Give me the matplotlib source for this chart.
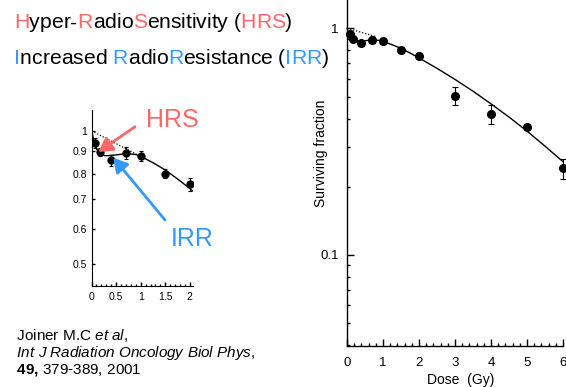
import matplotlib
matplotlib.use("Agg")
import matplotlib.pyplot as plt
from matplotlib.ticker import FixedLocator, MultipleLocator, LogLocator, NullFormatter, FixedFormatter
from matplotlib.patches import FancyArrowPatch
from matplotlib.font_manager import FontProperties, findfont
from matplotlib.ft2font import FT2Font
try:
    from matplotlib.ft2font import LoadFlags
    NO_HINT = LoadFlags.NO_HINTING
except ImportError:
    from matplotlib.ft2font import LOAD_NO_HINTING as NO_HINT
try:
    from matplotlib.ft2font import Kerning
    KERN_MODE = Kerning.UNFITTED
except ImportError:
    from matplotlib.ft2font import KERNING_UNFITTED as KERN_MODE

plt.rcParams['font.family'] = 'Liberation Sans'

# ---------------- data ----------------
dose = [0.08, 0.18, 0.39, 0.70, 1.0, 1.5, 2.0, 3.0, 4.0, 5.0, 6.0]
sf = [0.94, 0.895, 0.858, 0.89, 0.878, 0.80, 0.757, 0.504, 0.417, 0.368, 0.241]
sf_err = [0.025, 0.02, 0.024, 0.028, 0.022, 0.02, 0.025, 0.047, 0.04, 0.01, 0.024]

curve_dose = [0, 0.05, 0.1, 0.15, 0.2, 0.3, 0.5, 0.7, 0.9, 1.0, 1.25, 1.5, 1.75,
              2.0, 2.5, 3.0, 3.5, 4.0, 4.5, 5.0, 5.5, 6.0]
curve_sf = [1.0, 0.95, 0.912, 0.892, 0.882, 0.878, 0.882, 0.888, 0.884, 0.875, 0.847,
            0.815, 0.778, 0.74, 0.666, 0.595, 0.528, 0.464, 0.406, 0.352, 0.302, 0.258]

lq_dose_inset = [0, 1.0]
lq_sf_inset = [1.0, 0.875]
lq_dose_main = [0, 0.8]
lq_sf_main = [1.0, 0.92]

main_xticks = [0, 1, 2, 3, 4, 5, 6]
main_yticks = [0.1, 1]
main_yticklabels = ["0.1", "1"]
inset_xticks = [0, 0.5, 1, 1.5, 2]
inset_xticklabels = ["0", "0.5", "1", "1.5", "2"]
inset_yticks = [0.5, 0.6, 0.7, 0.8, 0.9, 1.0]
inset_yticklabels = ["0.5", "0.6", "0.7", "0.8", "0.9", "1"]

RED = "#FF6666"
BLUE = "#3399FF"

W, H = 566, 387
DPI = 100
fig = plt.figure(figsize=(W / DPI, H / DPI), dpi=DPI)


def fx(px):
    return px / W


def fy(py):
    return 1 - py / H


def frame(left, top, right, bottom):
    return [fx(left), fy(bottom), fx(right) - fx(left), fy(top) - fy(bottom)]


# ---------------- main axes ----------------
ax = fig.add_axes(frame(347, 0, 563, 345.7))
ax.set_yscale('log')
ax.set_xlim(0, 6)
ax.set_ylim(0.0398, 1.333)
for s in ('top', 'right'):
    ax.spines[s].set_visible(False)
for s in ('left', 'bottom'):
    ax.spines[s].set_linewidth(1.0)

ax.plot(curve_dose, curve_sf, color='black', lw=1.0, clip_on=False, zorder=2)
ax.plot(lq_dose_main, lq_sf_main, color='black', lw=0.9, ls=(0, (1, 1.5)), zorder=2)
ax.errorbar(dose, sf, yerr=sf_err, fmt='o', color='black', ms=5.5, capsize=2,
            elinewidth=0.8, capthick=0.8, clip_on=False, zorder=3)

ax.xaxis.set_major_locator(FixedLocator(main_xticks))
ax.xaxis.set_minor_locator(MultipleLocator(0.2))
ax.yaxis.set_major_locator(FixedLocator(main_yticks))
ax.yaxis.set_major_formatter(FixedFormatter(main_yticklabels))
ax.yaxis.set_minor_locator(LogLocator(base=10, subs=[2, 3, 4, 5, 6, 7, 8, 9]))
ax.yaxis.set_minor_formatter(NullFormatter())
ax.tick_params(which='major', direction='in', length=5, width=1, labelsize=9.5)
ax.tick_params(which='minor', direction='in', length=2.5, width=1)
ax.tick_params(axis='x', which='major', pad=8)
ax.tick_params(axis='y', which='major', pad=6)

fig.text(fx(461), fy(384), "Dose  (Gy)", ha='center', va='baseline', fontsize=10)
fig.text(fx(321), fy(153), "Surviving fraction", ha='center', va='center',
         rotation=90, fontsize=10)

# ---------------- inset axes ----------------
axi = fig.add_axes(frame(91.5, 110, 193.3, 286))
axi.set_yscale('log')
axi.set_xlim(0, 2.07)
axi.set_ylim(0.445, 1.115)
for s in ('top', 'right'):
    axi.spines[s].set_visible(False)
axi.plot(curve_dose, curve_sf, color='black', lw=1.0, zorder=2)
axi.plot(lq_dose_inset, lq_sf_inset, color='black', lw=0.9, ls=(0, (1, 1.5)), zorder=2)
axi.errorbar(dose, sf, yerr=sf_err, fmt='o', color='black', ms=5, capsize=1.5,
             elinewidth=0.8, capthick=0.8, zorder=3)
axi.xaxis.set_major_locator(FixedLocator(inset_xticks))
axi.xaxis.set_major_formatter(FixedFormatter(inset_xticklabels))
axi.xaxis.set_minor_locator(MultipleLocator(0.1))
axi.yaxis.set_major_locator(FixedLocator(inset_yticks))
axi.yaxis.set_major_formatter(FixedFormatter(inset_yticklabels))
axi.yaxis.set_minor_locator(FixedLocator([]))
axi.yaxis.set_minor_formatter(NullFormatter())
axi.tick_params(axis='x', which='major', direction='in', length=3, width=1, labelsize=7.5, pad=4)
axi.tick_params(axis='x', which='minor', direction='in', length=1.8, width=1)
axi.tick_params(axis='y', which='major', direction='in', length=1.8, width=1,
                labelsize=7.5, pad=3.5)


# ---------------- rich text helper (per-character placement) ----------------
_fonts = {}


def get_font(size, style, weight):
    key = (size, style, weight)
    if key not in _fonts:
        prop = FontProperties(family='Liberation Sans', style=style, weight=weight)
        f = FT2Font(findfont(prop))
        f.set_size(size, DPI)
        _fonts[key] = f
    return _fonts[key]


def rich(x, y, parts, size, color='black'):
    cur = x
    for s, props in parts:
        p = {'color': color, 'style': 'normal', 'weight': 'normal'}
        p.update(props)
        font = get_font(size, p['style'], p['weight'])
        prev_idx = None
        for ch in s:
            idx = font.get_char_index(ord(ch))
            if prev_idx is not None:
                try:
                    cur += font.get_kerning(prev_idx, idx, KERN_MODE) / 64.0
                except Exception:
                    pass
            if ch != ' ':
                fig.text(fx(cur), fy(y), ch, ha='left', va='baseline', fontsize=size, **p)
            g = font.load_char(ord(ch), flags=NO_HINT)
            cur += g.linearHoriAdvance / 65536.0
            prev_idx = idx


title_fs = 15.25
rich(14, 28.3, [("H", {'color': RED}), ("yper-", {}), ("R", {'color': RED}),
                ("adio", {}), ("S", {'color': RED}), ("ensitivity (", {}),
                ("HRS", {'color': RED}), (")", {})], title_fs)
rich(14, 64.3, [("I", {'color': BLUE}), ("ncreased ", {}), ("R", {'color': BLUE}),
                ("adio", {}), ("R", {'color': BLUE}), ("esistance (", {}),
                ("IRR", {'color': BLUE}), (")", {})], title_fs)

cite_fs = 11
rich(16.7, 340.5, [("Joiner M.C ", {}), ("et al", {'style': 'italic'}), (",", {})], cite_fs)
rich(16.7, 357, [("Int J Radiation Oncology Biol Phys", {'style': 'italic'}), (",", {})], cite_fs)
rich(16.7, 373.5, [("49,", {'weight': 'bold'}), (" 379-389, 2001", {})], cite_fs)

# ---------------- HRS / IRR labels and arrows ----------------
fig.text(fx(146), fy(127), "HRS", color=RED, fontsize=18, ha='left', va='baseline')
fig.text(fx(171), fy(246), "IRR", color=BLUE, fontsize=18, ha='left', va='baseline')

for (x0, y0), (x1, y1), c in [((135, 126.7), (98.3, 152), RED),
                              ((165, 220), (113.3, 157.7), BLUE)]:
    arr = FancyArrowPatch((fx(x0), fy(y0)), (fx(x1), fy(y1)), transform=fig.transFigure,
                          arrowstyle='-|>,head_length=0.7,head_width=0.4',
                          mutation_scale=12, color=c, lw=2, shrinkA=0, shrinkB=0,
                          zorder=5)
    fig.add_artist(arr)

fig.savefig("out.png", dpi=DPI)
